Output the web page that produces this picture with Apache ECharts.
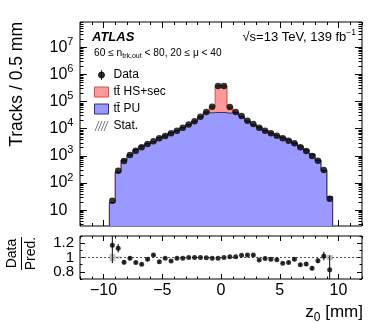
<!DOCTYPE html>
<html><head><meta charset="utf-8">
<script src="https://cdn.jsdelivr.net/npm/echarts@6/dist/echarts.min.js"></script>
<style>html,body{margin:0;padding:0;background:#fff}#c{width:382px;height:323px}</style>
</head><body><div id="c"></div>
<script>
const FONT = '"Liberation Sans", Arial, Helvetica, sans-serif';
// bin edges in z0 [mm] (0.5 mm bins)
const binEdges = [-9.5,-9,-8.5,-8,-7.5,-7,-6.5,-6,-5.5,-5,-4.5,-4,-3.5,-3,-2.5,-2,-1.5,-1,-0.5,0,0.5,1,1.5,2,2.5,3,3.5,4,4.5,5,5.5,6,6.5,7,7.5,8,8.5,9,9.5];
// Data counts per bin
const dataCounts = [22,282,645,1070,1550,2050,2720,3430,4430,5370,6760,8430,10900,14100,18800,27700,41300,64600,377000,377000,63000,41300,29500,19700,14800,10900,8430,6760,5500,4430,3600,2880,2050,1510,980,660,300,26];
// ttbar pile-up prediction
const puCounts = [19,250,690,1080,1670,2260,2790,3320,4710,5420,7100,8520,11000,14100,18800,27200,40000,38500,39500,39500,37500,39400,28100,19000,14300,11300,8560,6930,5670,4820,3870,2950,2280,1660,1150,690,294,31];
// ttbar hard-scatter + secondaries prediction
const hsCounts = [0,0,0,0,0,0,0,0,0,0,0,0,0,0,0,500,1500,26500,341000,337000,25000,1500,500,0,0,0,0,0,0,0,0,0,0,0,0,0,0,0];
// Data / Prediction
const ratioValues = [1.17,1.13,0.934,0.99,0.93,0.906,0.975,1.034,0.94,0.99,0.952,0.99,0.99,1.0,1.0,1.0,0.995,0.99,0.99,1.0,1.01,1.01,1.03,1.035,1.035,0.965,0.985,0.975,0.97,0.92,0.93,0.975,0.9,0.91,0.85,0.955,1.02,0.83];
const ratioErrors = [0.25,0.06,0.03,0.025,0.022,0.02,0.018,0.016,0.014,0.013,0.012,0.011,0.01,0.009,0.008,0.006,0.005,0.004,0.002,0.002,0.004,0.005,0.006,0.008,0.009,0.01,0.011,0.012,0.013,0.015,0.016,0.018,0.02,0.024,0.03,0.035,0.06,0.2];
const statErrors = [0.05,0.015,0,0,0,0,0,0,0,0,0,0,0,0,0,0,0,0,0,0,0,0,0,0,0,0,0,0,0,0,0,0,0,0,0,0,0.015,0.035];
// axis ticks / labels
const xMajorTicks = [-10,-5,0,5,10];
const xMinorTicks = [-12,-11,-9,-8,-7,-6,-4,-3,-2,-1,1,2,3,4,6,7,8,9,11,12];
const yMajorTicks = [10,1e2,1e3,1e4,1e5,1e6,1e7];
const ratioMajorTicks = [0.8,1,1.2];
const ratioOuterLabels = [0.8,1.2];
const ratioCenterLabel = [1];
const ratioMinorTicks = [0.7,0.9,1.1,1.3];
const X_MIN = -12, X_MAX = 12, Y_MIN = 2.6, Y_MAX = 8.5e7, R_MIN = 0.7, R_MAX = 1.3;

const centers = binEdges.slice(0, -1).map((e, i) => (e + binEdges[i + 1]) / 2);
const yMinorTicks = [];
for (let d = 1; d <= 1e7; d *= 10) for (let k = 2; k <= 9; k++) { const v = k * d; if (v > Y_MIN && v < Y_MAX) yMinorTicks.push(v); }

const xAxes = [], yAxes = [];
function addX(grid, pos, ticks, len, labels) {
  xAxes.push({
    type: 'value', gridIndex: grid, position: pos, min: X_MIN, max: X_MAX,
    axisLine: { show: false, onZero: false }, splitLine: { show: false },
    axisTick: { show: true, inside: true, length: len, customValues: ticks, lineStyle: { color: '#000', width: 1 } },
    axisLabel: labels ? { show: true, customValues: xMajorTicks, margin: 4, color: '#000', fontSize: 16, fontFamily: FONT, hideOverlap: false,
      formatter: v => v < 0 ? '\u2212' + (-v) : String(v) } : { show: false }
  });
}
function addY(grid, pos, ticks, len, labels, isLog) {
  const ax = {
    type: isLog ? 'log' : 'value', gridIndex: grid, position: pos,
    min: isLog ? Y_MIN : R_MIN, max: isLog ? Y_MAX : R_MAX,
    axisLine: { show: false, onZero: false }, splitLine: { show: false },
    axisTick: { show: true, inside: true, length: len, customValues: ticks, lineStyle: { color: '#000', width: 1 } },
    axisLabel: { show: false }
  };
  if (labels && isLog) {
    ax.axisLabel = { show: true, customValues: yMajorTicks, align: 'left', margin: 30.5, color: '#000', fontSize: 16, fontFamily: FONT, lineHeight: 22, hideOverlap: false,
      formatter: v => { const n = Math.round(Math.log10(v)); return n === 1 ? '10' : '10{s|' + n + '}'; },
      rich: { s: { fontSize: 11, lineHeight: 12, verticalAlign: 'top', color: '#000', fontFamily: FONT } } };
  } else if (labels) {
    ax.axisLabel = { show: true, customValues: labels, margin: 6, color: '#000', fontSize: 15, fontFamily: FONT, lineHeight: 12, hideOverlap: false,
      showMinLabel: true, showMaxLabel: true, formatter: v => String(v) };
  }
  yAxes.push(ax);
}
// main grid (0)
addX(0, 'bottom', xMajorTicks, 6, false); addX(0, 'bottom', xMinorTicks, 3, false);
addX(0, 'top', xMajorTicks, 6, false); addX(0, 'top', xMinorTicks, 3, false);
addY(0, 'left', yMajorTicks, 7, true, true); addY(0, 'left', yMinorTicks, 3.5, false, true);
addY(0, 'right', yMajorTicks, 7, false, true); addY(0, 'right', yMinorTicks, 3.5, false, true);
// ratio grid (1)
addX(1, 'bottom', xMajorTicks, 5, true); addX(1, 'bottom', xMinorTicks, 2.5, false);
addX(1, 'top', xMajorTicks, 5, false); addX(1, 'top', xMinorTicks, 2.5, false);
addY(1, 'left', ratioMajorTicks, 5, ratioOuterLabels, false); addY(1, 'left', ratioMinorTicks, 2.5, ratioCenterLabel, false);
addY(1, 'right', ratioMajorTicks, 5, false, false); addY(1, 'right', ratioMinorTicks, 2.5, false, false);

function histRender(getVal, fill, stroke) {
  return function (params, api) {
    const i = params.dataIndex, n = binEdges.length - 1;
    const v = getVal(i);
    const pL = api.coord([binEdges[i], v]);
    const pR = api.coord([binEdges[i + 1], v]);
    const bL = api.coord([binEdges[i], Y_MIN]);
    const pPrev = api.coord([binEdges[i], i > 0 ? getVal(i - 1) : Y_MIN]);
    const extra = i < n - 1 ? 0.6 : 0;
    const children = [
      { type: 'rect', shape: { x: pL[0], y: pL[1], width: pR[0] - pL[0] + extra, height: bL[1] - pL[1] }, style: { fill: fill } },
      { type: 'polyline', shape: { points: [pPrev, pL, pR] }, style: { stroke: stroke, lineWidth: 1, fill: null } }
    ];
    if (i === n - 1) {
      const bR = api.coord([binEdges[i + 1], Y_MIN]);
      children.push({ type: 'line', shape: { x1: pR[0], y1: pR[1], x2: bR[0], y2: bR[1] }, style: { stroke: stroke, lineWidth: 1 } });
    }
    return { type: 'group', children: children };
  };
}
function statRender(params, api) {
  const i = params.dataIndex, s = statErrors[i];
  if (!s) return null;
  const a = api.coord([binEdges[i], 1 + s]), b = api.coord([binEdges[i + 1], 1 - s]);
  return { type: 'rect', shape: { x: a[0], y: a[1], width: b[0] - a[0], height: b[1] - a[1] }, style: { fill: '#c4c4c4' } };
}
function errRender(params, api) {
  const i = params.dataIndex, r = ratioValues[i], e = ratioErrors[i];
  const a = api.coord([centers[i], Math.min(r + e, R_MAX)]), b = api.coord([centers[i], Math.max(r - e, R_MIN)]);
  return { type: 'line', shape: { x1: a[0], y1: a[1], x2: b[0], y2: b[1] }, style: { stroke: '#000', lineWidth: 1 } };
}

const PU_NAME = 'tt\u0304 PU';
const HS = 'tt\u0304 HS+sec';

const option = {
  animation: false,
  textStyle: { fontFamily: FONT },
  grid: [
    { left: 80, right: 20, top: 22, height: 204, show: true, borderColor: '#000', borderWidth: 1, backgroundColor: 'transparent', containLabel: false, outerBoundsMode: 'none' },
    { left: 80, right: 20, top: 236, height: 43, show: true, borderColor: '#000', borderWidth: 1, backgroundColor: 'transparent', containLabel: false, outerBoundsMode: 'none' }
  ],
  xAxis: xAxes,
  yAxis: yAxes,
  legend: {
    orient: 'vertical', left: 89, top: 64, itemWidth: 14, itemHeight: 10, itemGap: 5, selectedMode: false,
    textStyle: { fontFamily: FONT, fontSize: 12, color: '#000', lineHeight: 12 },
    data: [
      { name: 'Data', icon: 'path://M5 0L5 10M8 5A3 3 0 1 1 2 5A3 3 0 1 1 8 5Z', itemStyle: { color: '#000', borderColor: '#000', borderWidth: 1 } },
      { name: HS, icon: 'rect', itemStyle: { color: '#ff9999', borderColor: '#cc5555', borderWidth: 1 } },
      { name: PU_NAME, icon: 'rect', itemStyle: { color: '#9999ff', borderColor: '#30307a', borderWidth: 1 } },
      { name: 'Stat.', icon: 'path://M0 10L4 0M3 10L7 0M6 10L10 0M9 10L13 0', itemStyle: { color: 'transparent', borderColor: '#777', borderWidth: 1 } }
    ]
  },
  series: [
    { name: HS, type: 'custom', xAxisIndex: 0, yAxisIndex: 0, z: 2, renderItem: histRender(i => puCounts[i] + hsCounts[i], '#ff9999', '#cc5555'),
      data: centers.map((c, i) => [c, puCounts[i] + hsCounts[i]]), encode: { x: 0, y: 1 }, silent: true },
    { name: PU_NAME, type: 'custom', xAxisIndex: 0, yAxisIndex: 0, z: 3, renderItem: histRender(i => puCounts[i], '#9999ff', '#30307a'),
      data: centers.map((c, i) => [c, puCounts[i]]), encode: { x: 0, y: 1 }, silent: true },
    { name: 'Data', type: 'scatter', xAxisIndex: 0, yAxisIndex: 0, z: 5, symbol: 'circle', symbolSize: 6.5, itemStyle: { color: '#000' },
      data: centers.map((c, i) => [c, dataCounts[i]]), silent: true },
    { name: 'Stat.', type: 'custom', xAxisIndex: 4, yAxisIndex: 4, z: 2, renderItem: statRender,
      data: centers.map((c, i) => [c, 1]), encode: { x: 0, y: 1 }, silent: true },
    { name: 'ratioErr', type: 'custom', xAxisIndex: 4, yAxisIndex: 4, z: 4, renderItem: errRender,
      data: centers.map((c, i) => [c, ratioValues[i]]), encode: { x: 0, y: 1 }, silent: true },
    { name: 'Data/Pred.', type: 'scatter', xAxisIndex: 4, yAxisIndex: 4, z: 5, symbol: 'circle', symbolSize: 5, itemStyle: { color: '#000' },
      data: centers.map((c, i) => [c, ratioValues[i]]), silent: true,
      markLine: { silent: true, symbol: 'none', label: { show: false }, lineStyle: { color: '#555', type: [2, 2], width: 1 }, data: [{ yAxis: 1 }] } }
  ],
  graphic: [
    { type: 'text', x: 92, y: 37.5, style: { text: 'ATLAS', font: 'italic bold 13px ' + FONT, fill: '#000', verticalAlign: 'middle' } },
    { type: 'text', x: 356, y: 37, style: { text: '\u221As=13 TeV, 139 fb{s|\u22121}', font: '13px ' + FONT, fill: '#000', align: 'right', verticalAlign: 'middle', lineHeight: 18,
      rich: { s: { fontSize: 8.5, lineHeight: 9, verticalAlign: 'top', fill: '#000', fontFamily: FONT } } } },
    { type: 'text', x: 94, y: 53, style: { text: '60 \u2264 n{b|trk,out} < 80, 20 \u2264 \u03BC < 40', font: '10.2px ' + FONT, fill: '#000', verticalAlign: 'middle', lineHeight: 14,
      rich: { b: { fontSize: 7, lineHeight: 8, verticalAlign: 'bottom', fill: '#000', fontFamily: FONT } } } },
    { type: 'text', x: 17.5, y: 22, rotation: Math.PI / 2, style: { text: 'Tracks / 0.5 mm', font: '17.5px ' + FONT, fill: '#000', align: 'right', verticalAlign: 'middle' } },
    { type: 'text', x: 363, y: 312, style: { text: 'z{b|0} [mm]', font: '17px ' + FONT, fill: '#000', align: 'right', verticalAlign: 'middle', lineHeight: 24,
      rich: { b: { fontSize: 12, lineHeight: 14, verticalAlign: 'bottom', fill: '#000', fontFamily: FONT } } } },
    { type: 'text', x: 12.5, y: 253.5, rotation: Math.PI / 2, style: { text: 'Data', font: '14px ' + FONT, fill: '#000', align: 'center', verticalAlign: 'middle' } },
    { type: 'text', x: 31, y: 253.5, rotation: Math.PI / 2, style: { text: 'Pred.', font: '14px ' + FONT, fill: '#000', align: 'center', verticalAlign: 'middle' } },
    { type: 'line', shape: { x1: 21.5, y1: 237, x2: 21.5, y2: 270 }, style: { stroke: '#000', lineWidth: 1 } }
  ]
};
const chart = echarts.init(document.getElementById('c'), null, { renderer: 'canvas' });
chart.setOption(option);
</script>
</body></html>
